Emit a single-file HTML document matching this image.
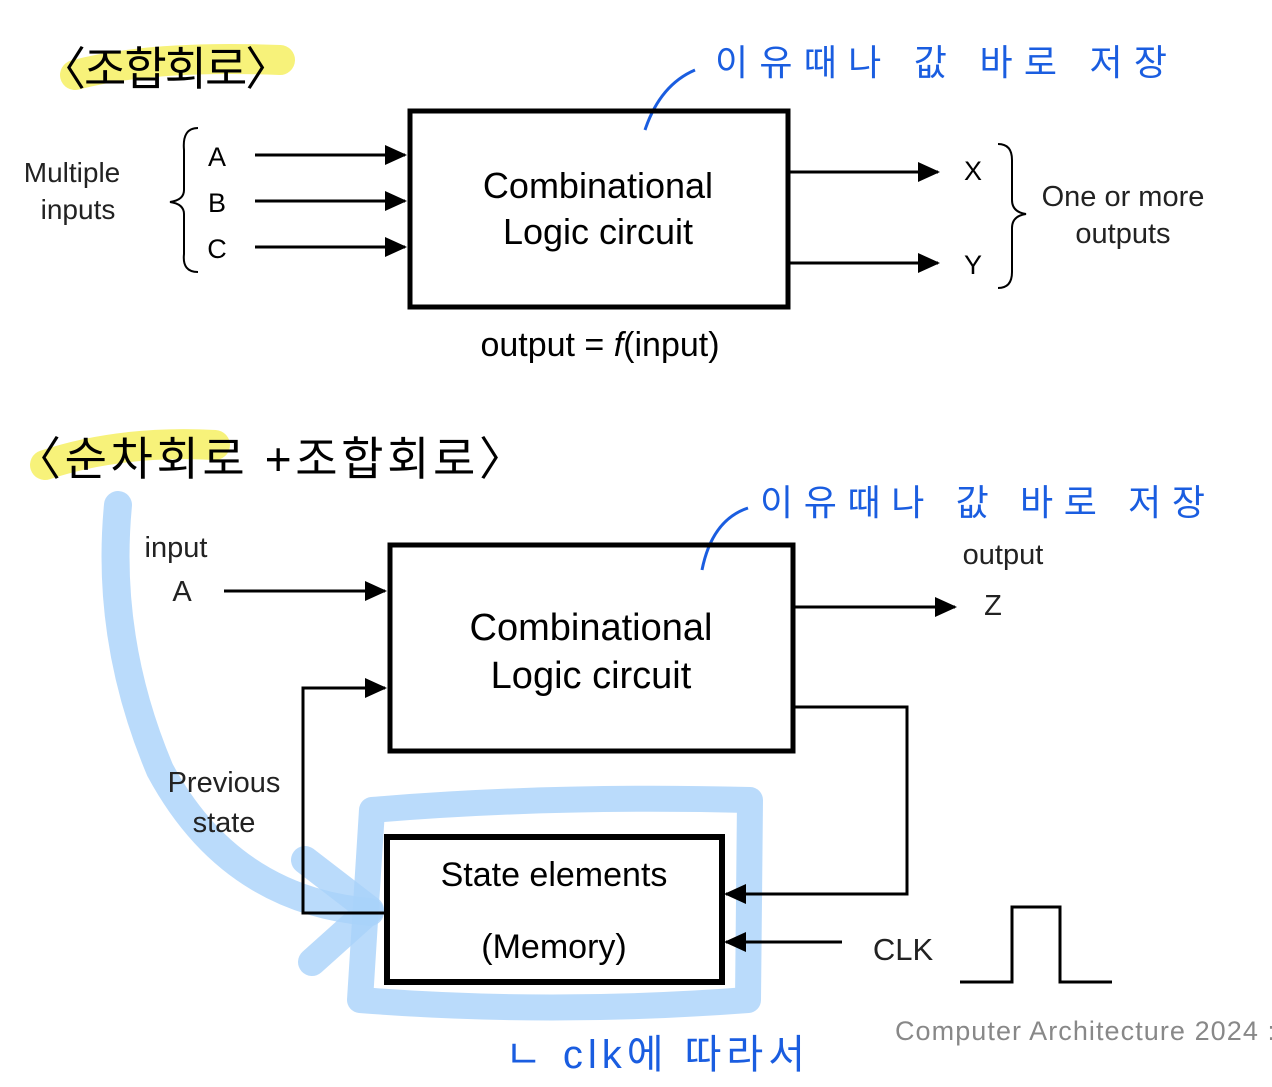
<!DOCTYPE html>
<html><head><meta charset="utf-8"><style>
body{margin:0;background:#fff;}
svg{display:block}
text{font-family:"Liberation Sans","Noto Sans CJK KR",sans-serif;}
</style></head><body>
<svg width="1272" height="1087" viewBox="0 0 1272 1087" xmlns="http://www.w3.org/2000/svg">
<defs><marker id="b" markerWidth="22" markerHeight="20" refX="20" refY="10" orient="auto" markerUnits="userSpaceOnUse"><path d="M0,0 L22,10 L0,20 z" fill="#000"/></marker></defs>

<path d="M75,75 Q150,55 280,60" stroke="#f7f27a" stroke-width="30" fill="none" stroke-linecap="round"/>
<text x="40" y="85" font-size="46" font-family="Noto Sans CJK KR" letter-spacing="-2">〈조합회로〉</text>
<text x="715" y="75" font-size="36" fill="#1a5de0" font-family="Noto Sans CJK KR" letter-spacing="3" textLength="455">이유때나 값 바로 저장</text>
<path d="M695,70 Q660,85 645,130" stroke="#1a5de0" stroke-width="3" fill="none"/>

<rect x="410" y="111" width="378" height="196" fill="none" stroke="#000" stroke-width="5"/>
<text x="598" y="198" font-size="36" text-anchor="middle">Combinational</text>
<text x="598" y="244" font-size="36" text-anchor="middle">Logic circuit</text>
<text x="72" y="182" font-size="28" text-anchor="middle" fill="#222">Multiple</text>
<text x="78" y="219" font-size="28" text-anchor="middle" fill="#222">inputs</text>
<path d="M198,128 Q182,128 184,150 L184,190 Q184,200 170,202 Q184,204 184,214 L184,254 Q182,272 198,272" stroke="#000" stroke-width="2" fill="none"/>
<text x="217" y="166" font-size="27" text-anchor="middle">A</text>
<text x="217" y="212" font-size="27" text-anchor="middle">B</text>
<text x="217" y="258" font-size="27" text-anchor="middle">C</text>
<g stroke="#000" stroke-width="3"><line x1="255" y1="155" x2="405" y2="155" marker-end="url(#b)"/><line x1="255" y1="201" x2="405" y2="201" marker-end="url(#b)"/><line x1="255" y1="247" x2="405" y2="247" marker-end="url(#b)"/>
<line x1="790" y1="172" x2="938" y2="172" marker-end="url(#b)"/><line x1="790" y1="263" x2="938" y2="263" marker-end="url(#b)"/></g>
<text x="973" y="180" font-size="27" text-anchor="middle">X</text>
<text x="973" y="274" font-size="27" text-anchor="middle">Y</text>
<path d="M998,144 Q1012,144 1012,160 L1012,200 Q1012,212 1026,214 Q1012,216 1012,228 L1012,272 Q1012,288 998,288" stroke="#000" stroke-width="2" fill="none"/>
<text x="1123" y="206" font-size="29" text-anchor="middle" fill="#222">One or more</text>
<text x="1123" y="243" font-size="29" text-anchor="middle" fill="#222">outputs</text>
<text x="600" y="356" font-size="34" text-anchor="middle" font-family="Liberation Serif">output = <tspan font-style="italic">f</tspan>(input)</text>

<path d="M45,465 Q120,440 215,445" stroke="#f7f27a" stroke-width="30" fill="none" stroke-linecap="round"/>
<text x="15" y="475" font-size="46" font-family="Noto Sans CJK KR" textLength="510">〈순차회로 +조합회로〉</text>
<text x="760" y="515" font-size="36" fill="#1a5de0" font-family="Noto Sans CJK KR" textLength="445">이유때나 값 바로 저장</text>
<path d="M748,508 Q712,520 702,570" stroke="#1a5de0" stroke-width="3" fill="none"/>

<g stroke="#a9d2fa" stroke-opacity="0.8" fill="none" stroke-linecap="round" stroke-linejoin="round">
<path d="M118,505 Q105,640 160,770 Q230,900 370,912" stroke-width="28"/>
<path d="M312,962 L370,910 L305,860" stroke-width="28"/>
<path d="M372,810 Q550,795 750,800 L748,1000 Q550,1015 360,1000 Z" stroke-width="26"/>
</g>

<rect x="390" y="545" width="403" height="206" fill="none" stroke="#000" stroke-width="5"/>
<text x="591" y="640" font-size="38" text-anchor="middle">Combinational</text>
<text x="591" y="688" font-size="38" text-anchor="middle">Logic circuit</text>
<rect x="387" y="837" width="335" height="145" fill="none" stroke="#000" stroke-width="6"/>
<text x="554" y="886" font-size="34" text-anchor="middle">State elements</text>
<text x="554" y="958" font-size="34" text-anchor="middle">(Memory)</text>
<text x="176" y="557" font-size="29" text-anchor="middle" fill="#222">input</text>
<text x="182" y="601" font-size="29" text-anchor="middle" fill="#222">A</text>
<text x="1003" y="564" font-size="29" text-anchor="middle" fill="#222">output</text>
<text x="993" y="615" font-size="29" text-anchor="middle" fill="#222">Z</text>
<text x="224" y="792" font-size="29" text-anchor="middle" fill="#222">Previous</text>
<text x="224" y="832" font-size="29" text-anchor="middle" fill="#222">state</text>
<g stroke="#000" stroke-width="3" fill="none">
<line x1="224" y1="591" x2="385" y2="591" marker-end="url(#b)"/>
<line x1="795" y1="607" x2="955" y2="607" marker-end="url(#b)"/>
<polyline points="387,913 303,913 303,688 385,688" marker-end="url(#b)"/>
<polyline points="795,707 907,707 907,894 726,894" marker-end="url(#b)"/>
<line x1="842" y1="942" x2="726" y2="942" marker-end="url(#b)"/>
<polyline points="960,982 1012,982 1012,907 1060,907 1060,982 1112,982"/>
</g>
<text x="903" y="960" font-size="31" text-anchor="middle" fill="#222">CLK</text>
<text x="895" y="1040" font-size="27" fill="#888" textLength="380">Computer Architecture 2024 :</text>
<text x="505" y="1068" font-size="40" fill="#1a5de0" font-family="Noto Sans CJK KR" textLength="300">ㄴ clk에 따라서</text>
</svg>
</body></html>
